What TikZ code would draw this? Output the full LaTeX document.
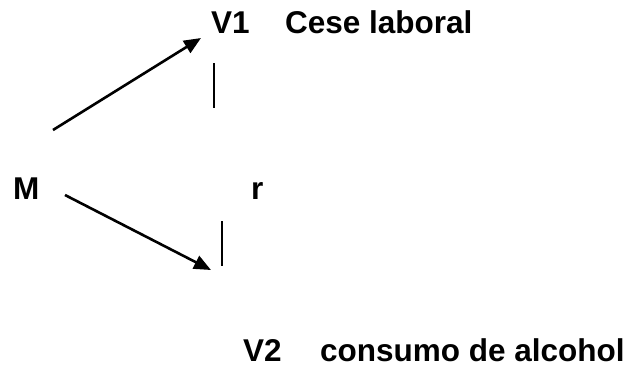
\documentclass[tikz,border=0pt]{standalone}
\usepackage{fontspec}
\setmainfont{Liberation Sans}
\usetikzlibrary{arrows.meta}
\begin{document}
\begin{tikzpicture}[x=1pt,y=-1pt,
  lbl/.style={anchor=base west,inner sep=0pt,font=\fontsize{31.5}{36}\selectfont\bfseries},
  arr/.style={line width=2.6pt,-{Triangle[length=17pt,width=14pt]}},
  bar/.style={line width=1.6pt}]
\useasboundingbox (0,0) rectangle (629,368);
\node[lbl] (v1) at (211,33) {V1};
\node[lbl] (v1t) at (285,33) {Cese laboral};
\node[lbl] (m) at (13,199) {M};
\node[lbl] (r) at (251,199) {r};
\node[lbl] (v2) at (243,361) {V2};
\node[lbl] (v2t) at (320,361) {consumo de alcohol};
\coordinate (a1s) at (53,130);
\coordinate (a1e) at (201,38);
\coordinate (a2s) at (65,195);
\coordinate (a2e) at (211,270);
\coordinate (b1s) at (214,63);
\coordinate (b1e) at (214,108);
\coordinate (b2s) at (222,221);
\coordinate (b2e) at (222,266);
\draw[arr] (a1s) -- (a1e);
\draw[arr] (a2s) -- (a2e);
\draw[bar] (b1s) -- (b1e);
\draw[bar] (b2s) -- (b2e);
\end{tikzpicture}
\end{document}
